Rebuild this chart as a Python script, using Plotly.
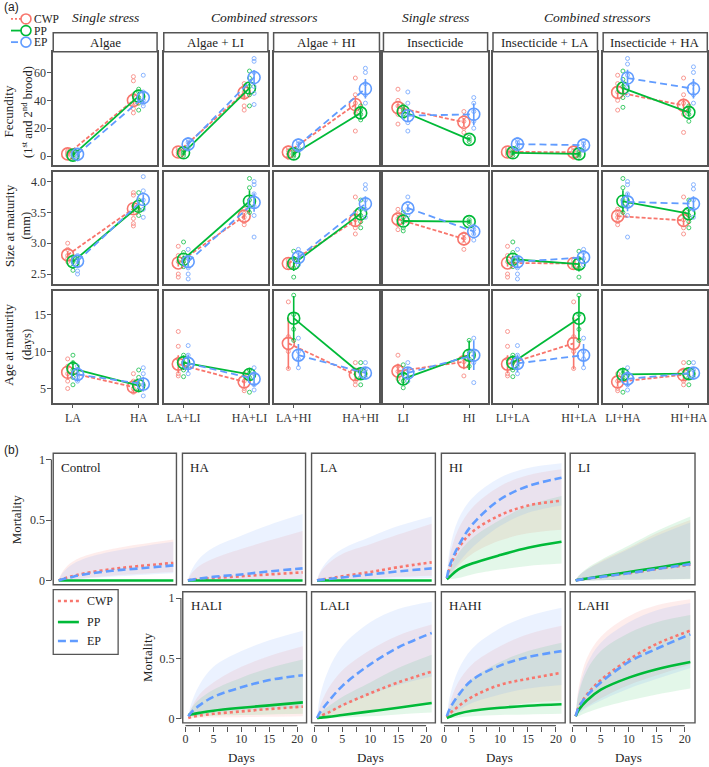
import plotly.graph_objects as go

W, H = 709, 767
SERIF = "Liberation Serif"
SANS = "Liberation Sans"
BORDER = "#555555"
TXT = "#222222"
TICKC = "#333333"

def px(x):
    return x / W

def py(y):
    return 1 - y / H

SERIES = ["CWP", "PP", "EP"]
COLORS = {"CWP": "#F8766D", "PP": "#00BA38", "EP": "#619CFF"}
FILLS = {"CWP": "rgba(248,118,109,0.13)", "PP": "rgba(0,186,56,0.11)", "EP": "rgba(97,156,255,0.13)"}

# ---------------- Panel (a) data ----------------
panels_a = ["Algae", "Algae + LI", "Algae + HI", "Insecticide", "Insecticide + LA", "Insecticide + HA"]
levels_a = [["LA", "HA"], ["LA+LI", "HA+LI"], ["LA+HI", "HA+HI"], ["LI", "HI"], ["LI+LA", "HI+LA"], ["LI+HA", "HI+HA"]]
group_titles = ["Single stress", "Combined stressors", "Single stress", "Combined stressors"]

fec_cwp = [1.6, 40, 3.0, 45.5, 2.9, 37.0, 34.8, 24.3, 3.0, 2.9, 45.7, 36.4]
fec_pp = [0.7, 43, 2.4, 48.8, 1.6, 31.0, 32.0, 12.0, 2.4, 1.6, 48.8, 31.4]
fec_ep = [1.4, 42, 8.6, 56.4, 7.9, 48.3, 29.0, 30.0, 8.6, 7.9, 56.0, 48.3]
fec_cwp_err = [1.5, 3, 1.5, 4, 2, 6, 3, 3, 1.5, 2, 4, 5]
fec_pp_err = [2.5, 3, 1.5, 4, 1.5, 4, 2, 1, 1.5, 1.5, 4, 3]
fec_ep_err = [2, 4, 2, 5, 2, 7, 4, 8, 2, 2, 6, 7]

size_cwp = [2.81, 3.56, 2.68, 3.44, 2.67, 3.37, 3.39, 3.07, 2.68, 2.67, 3.44, 3.37]
size_pp = [2.70, 3.60, 2.74, 3.68, 2.67, 3.48, 3.36, 3.35, 2.74, 2.66, 3.68, 3.48]
size_ep = [2.71, 3.71, 2.70, 3.66, 2.77, 3.64, 3.57, 3.19, 2.70, 2.77, 3.67, 3.64]
size_cwp_err = [0.06, 0.08, 0.06, 0.05, 0.03, 0.08, 0.06, 0.06, 0.06, 0.03, 0.05, 0.08]
size_pp_err = [0.07, 0.07, 0.06, 0.18, 0.12, 0.08, 0.06, 0.03, 0.06, 0.12, 0.18, 0.08]
size_ep_err = [0.05, 0.08, 0.10, 0.15, 0.08, 0.12, 0.06, 0.06, 0.10, 0.08, 0.15, 0.12]

age_cwp = [7.2, 5.2, 8.3, 5.9, 11.1, 6.85, 7.35, 8.6, 8.3, 11.1, 5.9, 6.85]
age_pp = [7.7, 5.4, 8.5, 6.9, 14.5, 7.0, 6.3, 9.5, 8.5, 14.5, 6.9, 7.0]
age_ep = [6.9, 5.6, 8.4, 6.3, 9.5, 7.1, 7.1, 9.5, 8.4, 9.5, 6.3, 7.1]
age_cwp_err = [1, 0.8, 1.2, 0.6, 3.5, 0.8, 1, 1, 1.2, 3.5, 0.6, 0.8]
age_pp_err = [1, 0.8, 1, 0.8, 3, 0.8, 0.8, 2, 1, 3, 0.8, 0.8]
age_ep_err = [1, 1, 1.2, 1, 1.5, 0.8, 0.8, 2, 1.2, 1.5, 1, 0.8]

fec_cwp_reps = [[0.5, 1.5, 2.5, 3.5], [57, 54, 44, 38, 34, 31], [1, 2.5, 4, 5.5], [52, 50, 46, 42, 36, 33],
                [-1, 1.5, 4, 6], [56, 44, 38, 31, 18], [48, 40, 36, 30, 23], [32, 28, 25, 20, 17],
                [1, 2.5, 4, 5.5], [-1, 1.5, 4, 6], [58, 52, 46, 40, 33], [56, 44, 38, 30, 17]]
fec_pp_reps = [[-1, 0.5, 2, 3.5], [48, 46, 42, 38, 33], [0.5, 2, 3, 4.5], [61, 56, 50, 44, 36],
               [0, 1, 2.5, 3.5], [36, 33, 30, 26], [36, 33, 30, 28], [13.5, 12, 10.5],
               [0.5, 2, 3, 4.5], [0, 1, 2.5, 3.5], [61, 55, 50, 42, 35], [36, 33, 30, 25]]
fec_ep_reps = [[-2, 0, 2, 3.5], [58, 46, 40, 38, 36], [5, 7, 10, 12], [70, 68, 60, 50, 45, 37],
               [4, 6, 9, 11], [63, 60, 52, 44, 38], [46, 38, 30, 24, 18], [42, 38, 32, 25, 20],
               [5, 7, 10, 12], [4, 6, 9, 11], [70, 66, 58, 50, 44], [64, 60, 52, 44, 38]]

size_cwp_reps = [[3.0, 2.9, 2.8, 2.75, 2.7], [3.82, 3.78, 3.6, 3.4, 3.32, 3.28], [2.95, 2.8, 2.7, 2.5, 2.45],
                 [3.55, 3.48, 3.42, 3.35, 3.3], [2.72, 2.68, 2.65, 2.62], [3.75, 3.5, 3.38, 3.25, 3.15],
                 [3.55, 3.48, 3.4, 3.3, 3.22], [3.15, 3.08, 3.0, 2.9], [2.95, 2.8, 2.7, 2.5, 2.45],
                 [2.72, 2.68, 2.65, 2.62], [3.55, 3.48, 3.42, 3.35, 3.3], [3.75, 3.5, 3.38, 3.25, 3.15]]
size_pp_reps = [[2.78, 2.7, 2.62, 2.56], [3.82, 3.7, 3.55, 3.45], [3.02, 2.85, 2.75, 2.7, 2.62],
                [4.05, 3.9, 3.7, 3.6, 3.5], [2.87, 2.75, 2.6, 2.45], [3.7, 3.55, 3.45, 3.35, 3.25],
                [3.5, 3.42, 3.35, 3.25, 3.2], [3.38, 3.35, 3.32], [3.02, 2.85, 2.75, 2.7, 2.62],
                [2.87, 2.75, 2.6, 2.45], [4.05, 3.9, 3.7, 3.6, 3.5], [3.7, 3.55, 3.45, 3.35, 3.25]]
size_ep_reps = [[2.8, 2.72, 2.65, 2.55, 2.5], [4.08, 3.85, 3.7, 3.55, 3.42], [2.9, 2.75, 2.6, 2.5, 2.42],
                [4.0, 3.95, 3.8, 3.6, 3.45, 3.1], [2.9, 2.85, 2.75, 2.65], [3.95, 3.88, 3.7, 3.55, 3.42],
                [3.75, 3.65, 3.55, 3.45], [3.28, 3.22, 3.15, 3.05], [2.9, 2.75, 2.6, 2.5, 2.42],
                [2.9, 2.85, 2.75, 2.65], [4.0, 3.95, 3.8, 3.6, 3.45, 3.1], [3.95, 3.88, 3.7, 3.55, 3.42]]

age_cwp_reps = [[9, 8, 7, 6, 5], [7, 6, 5, 4.5], [12.7, 10.7, 9, 7, 6.7], [7, 6, 5, 4.7],
                [16.7, 12, 10, 7.7], [8.5, 7.5, 6, 5.5], [9.5, 8, 7.3, 6.3], [9.2, 8.6, 6.7],
                [12.7, 10.7, 9, 7, 6.7], [16.7, 12, 10, 7.7], [7, 6, 5, 4.7], [8.5, 7.5, 6, 5.5]]
age_pp_reps = [[9.5, 8.5, 7.5, 6.5, 5.5], [7.5, 6.5, 5.5, 4.8], [9.5, 8.5, 7.5, 6.6], [7.5, 7, 6.5, 4.5],
               [17.6, 15, 13, 11.5], [8.5, 7.5, 6.5, 5.5], [8.2, 7, 6, 5.1], [11.5, 10, 9, 8],
               [9.5, 8.5, 7.5, 6.6], [17.6, 15, 13, 11.5], [7.5, 7, 6.5, 4.5], [8.5, 7.5, 6.5, 5.5]]
age_ep_reps = [[8, 7, 6.5, 6], [7.8, 7, 5.5, 4], [10.8, 9.5, 8, 7], [7.8, 7, 5.5, 4.8],
               [11.8, 10, 9, 7.8], [8.5, 7.5, 6.5], [8.5, 7.5, 6.5, 6], [11.8, 10, 8.5, 5.8],
               [10.8, 9.5, 8, 7], [11.8, 10, 9, 7.8], [7.8, 7, 5.5, 4.8], [8.5, 7.5, 6.5]]

row_titles = [("Fecundity", "(1<sup>st</sup> and 2<sup>nd</sup> brood)"),
              ("Size at maturity", "(mm)"),
              ("Age at maturity", "(days)")]
row_ticks = [[0, 20, 40, 60], [2.5, 3.0, 3.5, 4.0], [5, 10, 15]]
row_ticktext = [["0", "20", "40", "60"], ["2.5", "3.0", "3.5", "4.0"], ["5", "10", "15"]]

rows_data = [
    ({"CWP": fec_cwp, "PP": fec_pp, "EP": fec_ep},
     {"CWP": fec_cwp_err, "PP": fec_pp_err, "EP": fec_ep_err},
     {"CWP": fec_cwp_reps, "PP": fec_pp_reps, "EP": fec_ep_reps}),
    ({"CWP": size_cwp, "PP": size_pp, "EP": size_ep},
     {"CWP": size_cwp_err, "PP": size_pp_err, "EP": size_ep_err},
     {"CWP": size_cwp_reps, "PP": size_pp_reps, "EP": size_ep_reps}),
    ({"CWP": age_cwp, "PP": age_pp, "EP": age_ep},
     {"CWP": age_cwp_err, "PP": age_pp_err, "EP": age_ep_err},
     {"CWP": age_cwp_reps, "PP": age_pp_reps, "EP": age_ep_reps}),
]

# ---------------- Panel (b) data ----------------
mort_days = [0.5, 1, 2.5, 5, 10, 15, 21]
mort_panels = ["Control", "HA", "LA", "HI", "LI", "HALI", "LALI", "HAHI", "LAHI"]

cwp_mean = {
    "Control": [0, 0.01, 0.03, 0.058, 0.094, 0.12, 0.145],
    "HA": [0, 0.005, 0.012, 0.02, 0.035, 0.05, 0.067],
    "LA": [0, 0.006, 0.015, 0.035, 0.07, 0.11, 0.15],
    "HI": [0.02, 0.1, 0.26, 0.4, 0.54, 0.62, 0.66],
    "LI": [0, 0.005, 0.015, 0.03, 0.06, 0.095, 0.13],
    "HALI": [0.005, 0.012, 0.025, 0.04, 0.06, 0.08, 0.1],
    "LALI": [0.005, 0.02, 0.05, 0.11, 0.21, 0.3, 0.39],
    "HAHI": [0.01, 0.04, 0.1, 0.18, 0.28, 0.33, 0.38],
    "LAHI": [0.02, 0.09, 0.2, 0.32, 0.49, 0.62, 0.73],
}
cwp_lower = {
    "Control": [0, 0, 0.005, 0.02, 0.04, 0.055, 0.07],
    "HA": [0, 0, 0, 0, 0.002, 0.005, 0.01],
    "LA": [0, 0, 0.002, 0.005, 0.015, 0.03, 0.04],
    "HI": [0.02, 0.04, 0.12, 0.22, 0.33, 0.39, 0.42],
    "LI": [0, 0, 0, 0.002, 0.005, 0.01, 0.015],
    "HALI": [0.005, 0.005, 0.008, 0.01, 0.012, 0.015, 0.02],
    "LALI": [0.005, 0.005, 0.01, 0.03, 0.06, 0.09, 0.12],
    "HAHI": [0.01, 0.01, 0.03, 0.06, 0.1, 0.13, 0.15],
    "LAHI": [0.02, 0.05, 0.1, 0.17, 0.28, 0.36, 0.45],
}
cwp_upper = {
    "Control": [0, 0.06, 0.14, 0.2, 0.26, 0.3, 0.34],
    "HA": [0, 0.05, 0.12, 0.18, 0.26, 0.33, 0.41],
    "LA": [0, 0.06, 0.14, 0.22, 0.3, 0.38, 0.47],
    "HI": [0.02, 0.2, 0.42, 0.6, 0.78, 0.87, 0.92],
    "LI": [0, 0.035, 0.09, 0.16, 0.27, 0.39, 0.5],
    "HALI": [0.005, 0.08, 0.2, 0.3, 0.43, 0.52, 0.6],
    "LALI": [0.005, 0.1, 0.25, 0.4, 0.57, 0.69, 0.78],
    "HAHI": [0.01, 0.12, 0.3, 0.45, 0.6, 0.7, 0.77],
    "LAHI": [0.02, 0.25, 0.5, 0.68, 0.85, 0.94, 0.99],
}
pp_mean = {
    "Control": [0, 0, 0, 0, 0, 0, 0],
    "HA": [0, 0, 0, 0, 0, 0, 0],
    "LA": [0, 0, 0, 0, 0, 0, 0],
    "HI": [0.01, 0.03, 0.09, 0.14, 0.21, 0.27, 0.32],
    "LI": [0, 0.006, 0.017, 0.035, 0.07, 0.105, 0.15],
    "HALI": [0.03, 0.035, 0.048, 0.066, 0.09, 0.11, 0.135],
    "LALI": [0.005, 0.008, 0.015, 0.03, 0.06, 0.09, 0.13],
    "HAHI": [0.005, 0.015, 0.04, 0.065, 0.09, 0.107, 0.12],
    "LAHI": [0.02, 0.07, 0.15, 0.24, 0.34, 0.41, 0.47],
}
pp_lower = {
    "Control": [0, 0, 0, 0, 0, 0, 0],
    "HA": [0, 0, 0, 0, 0, 0, 0],
    "LA": [0, 0, 0, 0, 0, 0, 0],
    "HI": [0.01, 0.01, 0.02, 0.05, 0.09, 0.12, 0.14],
    "LI": [0, 0, 0, 0.002, 0.005, 0.008, 0.01],
    "HALI": [0.03, 0.02, 0.02, 0.025, 0.03, 0.035, 0.04],
    "LALI": [0.005, 0.005, 0.005, 0.01, 0.02, 0.035, 0.05],
    "HAHI": [0.005, 0.005, 0.01, 0.02, 0.03, 0.035, 0.04],
    "LAHI": [0.02, 0.02, 0.05, 0.09, 0.15, 0.2, 0.25],
}
pp_upper = {
    "Control": [0, 0, 0, 0, 0, 0, 0],
    "HA": [0, 0, 0, 0, 0, 0, 0],
    "LA": [0, 0, 0, 0, 0, 0, 0],
    "HI": [0.01, 0.08, 0.22, 0.35, 0.5, 0.62, 0.7],
    "LI": [0, 0.04, 0.1, 0.17, 0.29, 0.41, 0.53],
    "HALI": [0.03, 0.08, 0.16, 0.24, 0.34, 0.42, 0.49],
    "LALI": [0.005, 0.04, 0.1, 0.18, 0.3, 0.42, 0.53],
    "HAHI": [0.005, 0.08, 0.2, 0.33, 0.47, 0.56, 0.63],
    "LAHI": [0.02, 0.2, 0.4, 0.56, 0.71, 0.8, 0.86],
}
ep_mean = {
    "Control": [0, 0.008, 0.025, 0.05, 0.08, 0.1, 0.125],
    "HA": [0, 0.005, 0.015, 0.03, 0.05, 0.075, 0.1],
    "LA": [0, 0.005, 0.012, 0.025, 0.05, 0.075, 0.1],
    "HI": [0.02, 0.12, 0.28, 0.46, 0.67, 0.78, 0.85],
    "LI": [0, 0.005, 0.015, 0.03, 0.06, 0.095, 0.135],
    "HALI": [0.02, 0.05, 0.11, 0.18, 0.26, 0.32, 0.36],
    "LALI": [0.005, 0.05, 0.14, 0.27, 0.45, 0.59, 0.71],
    "HAHI": [0.02, 0.08, 0.19, 0.32, 0.44, 0.51, 0.56],
    "LAHI": [0.02, 0.09, 0.19, 0.3, 0.47, 0.58, 0.7],
}
ep_lower = {
    "Control": [0, 0, 0.004, 0.015, 0.03, 0.045, 0.06],
    "HA": [0, 0, 0, 0.002, 0.005, 0.01, 0.015],
    "LA": [0, 0, 0, 0.003, 0.008, 0.015, 0.02],
    "HI": [0.02, 0.05, 0.14, 0.27, 0.45, 0.56, 0.62],
    "LI": [0, 0, 0, 0.002, 0.005, 0.01, 0.015],
    "HALI": [0.02, 0.02, 0.03, 0.05, 0.07, 0.08, 0.09],
    "LALI": [0.005, 0.01, 0.04, 0.1, 0.2, 0.28, 0.35],
    "HAHI": [0.02, 0.03, 0.07, 0.13, 0.2, 0.25, 0.28],
    "LAHI": [0.02, 0.04, 0.09, 0.15, 0.25, 0.33, 0.42],
}
ep_upper = {
    "Control": [0, 0.05, 0.12, 0.18, 0.24, 0.28, 0.32],
    "HA": [0, 0.07, 0.18, 0.27, 0.37, 0.46, 0.55],
    "LA": [0, 0.07, 0.17, 0.26, 0.36, 0.45, 0.53],
    "HI": [0.02, 0.25, 0.5, 0.68, 0.85, 0.93, 0.97],
    "LI": [0, 0.035, 0.09, 0.15, 0.26, 0.37, 0.48],
    "HALI": [0.02, 0.12, 0.28, 0.43, 0.56, 0.65, 0.73],
    "LALI": [0.005, 0.18, 0.4, 0.6, 0.8, 0.91, 0.97],
    "HAHI": [0.02, 0.18, 0.4, 0.58, 0.75, 0.85, 0.92],
    "LAHI": [0.02, 0.22, 0.45, 0.63, 0.8, 0.9, 0.96],
}
mort = {"CWP": (cwp_mean, cwp_lower, cwp_upper),
        "PP": (pp_mean, pp_lower, pp_upper),
        "EP": (ep_mean, ep_lower, ep_upper)}
day_ticks = [0, 5, 10, 15, 20]
day_ticktext = ["0", "5", "10", "15", "20"]
day_minor_step = 2.5

# ---------------- Layout geometry ----------------
col_x = [(53.3, 157.3), (164, 268.3), (274, 380), (384, 488.3), (493.7, 598.3), (604, 708.3)]
row_y = [(52, 166), (172.7, 285), (292.3, 404.3)]
row_range = [[-6.6, 74.8], [2.34, 4.155], [3.08, 18.15]]
strip_y = (33, 52)
dodge = {"CWP": -0.08, "PP": 0.0, "EP": 0.07}
line_dash_a = {"CWP": "4px,2px", "PP": "solid", "EP": "7px,4px"}
line_dash_b = {"CWP": "dot", "PP": "solid", "EP": "8px,4px"}

b_geom = {
    "Control": (53.3, 176.7, 0), "HA": (182.7, 306, 0), "LA": (312, 436, 0), "HI": (442, 566, 0),
    "LI": (571, 696, 0), "HALI": (183, 307, 1), "LALI": (312, 436, 1), "HAHI": (442, 566, 1),
    "LAHI": (571, 696, 1),
}
b_rows = [(455, 587), (594, 725.7)]

fig = go.Figure()
layout = dict(width=W, height=H, margin=dict(l=0, r=0, t=0, b=0), paper_bgcolor="white",
              plot_bgcolor="white", showlegend=False,
              font=dict(family=SERIF, size=12, color=TXT))
shapes = []
annotations = []


def axn(k, letter):
    return letter if k == 1 else f"{letter}{k}"


def axkey(k, letter):
    return f"{letter}axis" if k == 1 else f"{letter}axis{k}"


# ---- panel (a)
for r in range(3):
    means, errs, reps = rows_data[r]
    y0p, y1p = row_y[r]
    for c in range(6):
        k = r * 6 + c + 1
        x0p, x1p = col_x[c]
        layout[axkey(k, "x")] = dict(
            domain=[px(x0p), px(x1p)], anchor=axn(k, "y"), range=[-0.30, 1.28],
            showgrid=False, zeroline=False, showline=True, mirror=True, linecolor=BORDER, linewidth=1.5,
            ticks="outside" if r == 2 else "", ticklen=4, tickcolor=BORDER,
            tickvals=[0, 1], ticktext=levels_a[c], showticklabels=(r == 2), ticklabelstandoff=-1,
            tickfont=dict(family=SERIF, size=12, color=TICKC))
        layout[axkey(k, "y")] = dict(
            domain=[py(y1p), py(y0p)], anchor=axn(k, "x"), range=row_range[r],
            showgrid=False, zeroline=False, showline=True, mirror=True, linecolor=BORDER, linewidth=1.5,
            ticks="outside" if c == 0 else "", ticklen=4, tickcolor=BORDER, ticklabelstandoff=-1,
            tickvals=row_ticks[r], ticktext=row_ticktext[r], showticklabels=(c == 0),
            tickfont=dict(family=SERIF, size=12, color=TICKC))
        for s in SERIES:
            col = COLORS[s]
            xs = [0 + dodge[s], 1 + dodge[s]]
            ys = means[s][2 * c:2 * c + 2]
            es = errs[s][2 * c:2 * c + 2]
            rx, ry = [], []
            for lv in range(2):
                vals = reps[s][2 * c + lv]
                rx += [lv + dodge[s]] * len(vals)
                ry += vals
            fig.add_trace(go.Scatter(x=rx, y=ry, mode="markers", xaxis=axn(k, "x"), yaxis=axn(k, "y"),
                                     marker=dict(symbol="circle-open", size=4, color=col,
                                                 line=dict(width=1, color=col)), opacity=0.75,
                                     hoverinfo="skip"))
            fig.add_trace(go.Scatter(x=xs, y=ys, mode="lines+markers", xaxis=axn(k, "x"), yaxis=axn(k, "y"),
                                     line=dict(color=col, width=1.8, dash=line_dash_a[s]),
                                     marker=dict(symbol="circle-open", size=12, color=col,
                                                 line=dict(width=1.6, color=col)),
                                     error_y=dict(type="data", array=es, color=col, thickness=1.6, width=0),
                                     name=s))

for c in range(6):
    x0p, x1p = col_x[c]
    shapes.append(dict(type="rect", xref="paper", yref="paper", x0=px(x0p), x1=px(x1p),
                       y0=py(strip_y[1]), y1=py(strip_y[0]), line=dict(color=BORDER, width=1.5),
                       fillcolor="white"))
    annotations.append(dict(text=panels_a[c], xref="paper", yref="paper", x=px((x0p + x1p) / 2),
                            y=py(42.5), showarrow=False, xanchor="center", yanchor="middle",
                            font=dict(family=SERIF, size=13, color=TXT)))

for txt, xc in zip(group_titles, [106, 264, 436, 598]):
    annotations.append(dict(text=f"<i>{txt}</i>", xref="paper", yref="paper", x=px(xc), y=py(18),
                            showarrow=False, xanchor="center", yanchor="middle",
                            font=dict(family=SERIF, size=13.5, color=TXT)))

row_title_y = [112, 226, 346]
for r in range(3):
    l1, l2 = row_titles[r]
    annotations.append(dict(text=l1, xref="paper", yref="paper", x=px(9), y=py(row_title_y[r]),
                            showarrow=False, textangle=-90, xanchor="center", yanchor="middle",
                            font=dict(family=SERIF, size=13, color=TXT)))
    annotations.append(dict(text=l2, xref="paper", yref="paper", x=px(26.5), y=py(row_title_y[r]),
                            showarrow=False, textangle=-90, xanchor="center", yanchor="middle",
                            font=dict(family=SERIF, size=12.5, color=TXT)))

# legend (a)
for i, s in enumerate(SERIES):
    yy = [19, 30.7, 42.3][i]
    shapes.append(dict(type="line", xref="paper", yref="paper", x0=px(11), x1=px(21.5), y0=py(yy), y1=py(yy),
                       line=dict(color=COLORS[s], width=1.8, dash=line_dash_a[s] if s != "CWP" else "2px,2px")))
    shapes.append(dict(type="circle", xref="paper", yref="paper", x0=px(21), x1=px(31), y0=py(yy + 5),
                       y1=py(yy - 5), line=dict(color=COLORS[s], width=1.6)))
    annotations.append(dict(text=s, xref="paper", yref="paper", x=px(32), y=py(yy), showarrow=False,
                            xanchor="left", yanchor="middle", font=dict(family=SERIF, size=11.5, color=TXT)))

annotations.append(dict(text="(a)", xref="paper", yref="paper", x=px(2), y=py(7), showarrow=False,
                        xanchor="left", yanchor="middle", font=dict(family=SANS, size=12, color=TXT)))
annotations.append(dict(text="(b)", xref="paper", yref="paper", x=px(2), y=py(452), showarrow=False,
                        xanchor="left", yanchor="middle", font=dict(family=SANS, size=12, color=TXT)))

# ---- panel (b)
B_PX_PER_DAY = 5.6
for i, name in enumerate(mort_panels):
    k = 19 + i
    x0p, x1p, rr = b_geom[name]
    y0p, y1p = b_rows[rr]
    xr = [-2.7 / B_PX_PER_DAY, (x1p - x0p - 2.7) / B_PX_PER_DAY]
    xa = dict(domain=[px(x0p), px(x1p)], range=xr, showgrid=False, zeroline=False, showline=False)
    if rr == 1:
        xa.update(anchor="free", position=py(728.5), ticks="outside", ticklen=5, tickcolor=BORDER,
                  tickvals=day_ticks, ticktext=day_ticktext, ticklabelstandoff=-3,
                  minor=dict(tick0=0, dtick=day_minor_step, ticks="outside", ticklen=5, tickcolor=BORDER,
                             showgrid=False),
                  tickfont=dict(family=SERIF, size=12, color=TICKC))
        shapes.append(dict(type="line", xref=axn(k, "x"), yref="paper", x0=0, x1=20, y0=py(728.5), y1=py(728.5),
                           line=dict(color=BORDER, width=1.2)))
        annotations.append(dict(text="Days", xref="paper", yref="paper", x=px(x0p + 2.7 + 56), y=py(760),
                                showarrow=False, xanchor="center", yanchor="middle",
                                font=dict(family=SERIF, size=13, color=TXT)))
    else:
        xa.update(anchor=axn(k, "y"), showticklabels=False, ticks="")
    ya = dict(domain=[py(y1p), py(y0p)], range=[-0.035, 1.053], showgrid=False, zeroline=False, showline=False)
    if name in ("Control", "HALI"):
        ypos = x0p - 1.8
        ya.update(anchor="free", position=px(ypos), ticks="outside", ticklen=5, tickcolor=BORDER,
                  tickvals=[0, 0.5, 1], ticktext=["0", "0.5", "1"], ticklabelstandoff=-1,
                  tickfont=dict(family=SERIF, size=12, color=TICKC))
        shapes.append(dict(type="line", xref="paper", yref=axn(k, "y"), x0=px(ypos), x1=px(ypos), y0=0, y1=1,
                           line=dict(color=BORDER, width=1.2)))
        annotations.append(dict(text="Mortality", xref="paper", yref="paper", x=px(x0p - 36),
                                y=py((y0p + y1p) / 2), showarrow=False, textangle=-90,
                                xanchor="center", yanchor="middle",
                                font=dict(family=SERIF, size=13, color=TXT)))
    else:
        ya.update(anchor=axn(k, "x"), showticklabels=False, ticks="")
    layout[axkey(k, "x")] = xa
    layout[axkey(k, "y")] = ya

    for s in SERIES:
        m, lo, up = mort[s]
        fig.add_trace(go.Scatter(x=mort_days, y=lo[name], mode="lines", xaxis=axn(k, "x"), yaxis=axn(k, "y"),
                                 line=dict(width=0, shape="spline", color=FILLS[s]), hoverinfo="skip"))
        fig.add_trace(go.Scatter(x=mort_days, y=up[name], mode="lines", xaxis=axn(k, "x"), yaxis=axn(k, "y"),
                                 line=dict(width=0, shape="spline", color=FILLS[s]), fill="tonexty",
                                 fillcolor=FILLS[s], hoverinfo="skip"))
    for s in SERIES:
        m, lo, up = mort[s]
        fig.add_trace(go.Scatter(x=mort_days, y=m[name], mode="lines", xaxis=axn(k, "x"), yaxis=axn(k, "y"),
                                 line=dict(width=2.6, shape="spline", color=COLORS[s], dash=line_dash_b[s]),
                                 name=s))
    shapes.append(dict(type="rect", xref="paper", yref="paper", x0=px(x0p), x1=px(x1p), y0=py(y1p), y1=py(y0p),
                       line=dict(color=BORDER, width=1.4), fillcolor="rgba(0,0,0,0)", layer="above"))
    annotations.append(dict(text=name, xref="paper", yref="paper", x=px(x0p + 6), y=py(y0p + 14),
                            showarrow=False, xanchor="left", yanchor="middle",
                            font=dict(family=SERIF, size=13, color=TXT)))

shapes.append(dict(type="rect", xref="paper", yref="paper", x0=px(53.3), x1=px(118.3), y0=py(657), y1=py(592),
                   line=dict(color=BORDER, width=1.3), fillcolor="white"))
for s, yy in zip(SERIES, [603.3, 624.5, 643.5]):
    shapes.append(dict(type="line", xref="paper", yref="paper", x0=px(58), x1=px(79), y0=py(yy), y1=py(yy),
                       line=dict(color=COLORS[s], width=2.6, dash=line_dash_b[s])))
    annotations.append(dict(text=s, xref="paper", yref="paper", x=px(85), y=py(yy), showarrow=False,
                            xanchor="left", yanchor="middle", font=dict(family=SERIF, size=12, color=TXT)))

layout["shapes"] = shapes
layout["annotations"] = annotations
fig.update_layout(**layout)
fig.write_html("out.html", config={"displayModeBar": False},
               post_script="document.body.style.margin='0';document.body.style.overflow='hidden';")
